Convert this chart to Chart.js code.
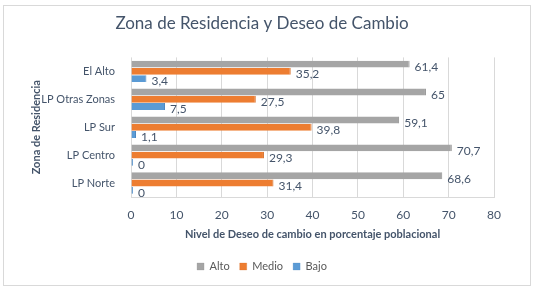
<!DOCTYPE html>
<html>
<head>
<meta charset="utf-8">
<script src="https://cdn.jsdelivr.net/npm/chart.js@4"></script>
<style>
html,body{margin:0;padding:0;background:#fff;}
#wrap{width:535px;height:288px;position:relative;}
</style>
</head>
<body>
<div id="wrap"><canvas id="c" width="535" height="288"></canvas></div>
<script>
const categories = ["El Alto", "LP Otras Zonas", "LP Sur", "LP Centro", "LP Norte"];
const alto  = [61.4, 65, 59.1, 70.7, 68.6];
const medio = [35.2, 27.5, 39.8, 29.3, 31.4];
const bajo  = [3.4, 7.5, 1.1, 0, 0];
const seriesNames = ["Alto", "Medio", "Bajo"];
const xTicks = [0, 10, 20, 30, 40, 50, 60, 70, 80];

const FONT = "Lato, 'Open Sans', sans-serif";
const TXT = "#44546a";

const borderPlugin = {
  id: 'border',
  beforeDraw(chart) {
    const ctx = chart.ctx;
    ctx.save();
    ctx.fillStyle = '#fff';
    ctx.fillRect(0, 0, chart.width, chart.height);
    ctx.strokeStyle = '#d9d9d9';
    ctx.lineWidth = 1;
    ctx.strokeRect(3.5, 5.5, 527, 280);
    ctx.restore();
  }
};

const labelPlugin = {
  id: 'valueLabels',
  afterDatasetsDraw(chart) {
    const ctx = chart.ctx;
    ctx.save();
    ctx.font = "12px " + FONT;
    ctx.fillStyle = TXT;
    ctx.textBaseline = 'middle';
    ctx.textAlign = 'left';
    chart.data.datasets.forEach((ds, i) => {
      const meta = chart.getDatasetMeta(i);
      meta.data.forEach((el, j) => {
        const v = ds.data[j];
        const txt = String(v).replace('.', ',');
        ctx.fillText(txt, el.x + 5, el.y + 3);
      });
    });
    ctx.restore();
  }
};

new Chart(document.getElementById('c'), {
  type: 'bar',
  data: {
    labels: categories,
    datasets: [
      { label: seriesNames[0], data: alto,  backgroundColor: '#a5a5a5', borderColor: '#8f8f8f', borderWidth: {right:1, top:0, bottom:0, left:0} },
      { label: seriesNames[1], data: medio, backgroundColor: '#ed7d31', borderColor: '#d46a22', borderWidth: {right:1, top:0, bottom:0, left:0} },
      { label: seriesNames[2], data: bajo,  backgroundColor: '#5b9bd5', borderColor: '#4a86c0', borderWidth: {right:1, top:0, bottom:0, left:0}, minBarLength: 2 }
    ]
  },
  options: {
    indexAxis: 'y',
    responsive: false,
    animation: false,
    devicePixelRatio: 1,
    datasets: { bar: { categoryPercentage: 0.78, barPercentage: 0.95 } },
    layout: { padding: { top: 11, left: 30, right: 41, bottom: 6 } },
    plugins: {
      title: {
        display: true,
        text: 'Zona de Residencia y Deseo de Cambio',
        color: TXT,
        font: { family: FONT, size: 17, weight: 'normal' },
        padding: { top: 2, bottom: 24 }
      },
      legend: {
        position: 'bottom',
        labels: {
          color: '#595959',
          font: { family: FONT, size: 11 },
          boxWidth: 7, boxHeight: 7, padding: 10
        }
      },
      tooltip: { enabled: false }
    },
    scales: {
      x: {
        min: 0, max: 80,
        afterBuildTicks(scale) { scale.ticks = xTicks.map(v => ({ value: v })); },
        afterFit(scale) { scale.height = 54; },
        grid: { color: '#d9d9d9', drawTicks: true, tickLength: 8, tickColor: 'transparent' },
        border: { display: true, color: '#d9d9d9' },
        ticks: { color: TXT, font: { family: FONT, size: 12 }, padding: 3 },
        title: {
          display: true,
          text: 'Nivel de Deseo de cambio en porcentaje poblacional',
          color: TXT,
          font: { family: FONT, size: 11, weight: 'bold' },
          padding: { top: 4, bottom: 10 }
        }
      },
      y: {
        afterFit(scale) { scale.width = 101; },
        grid: { display: false },
        border: { display: false },
        ticks: { color: TXT, font: { family: FONT, size: 11 }, padding: 8 },
        title: {
          display: true,
          text: 'Zona de Residencia',
          color: TXT,
          font: { family: FONT, size: 11, weight: 'bold' },
          padding: 0
        }
      }
    }
  },
  plugins: [borderPlugin, labelPlugin]
});
</script>
</body>
</html>
